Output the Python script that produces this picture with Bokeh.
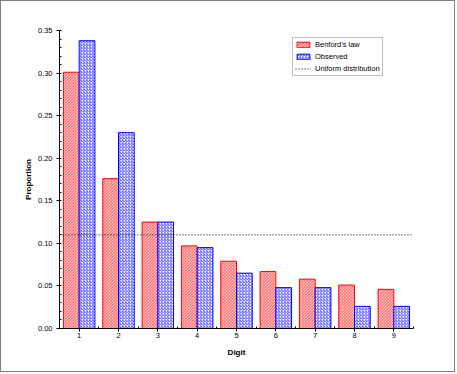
from bokeh.plotting import figure
from bokeh.models import (Range1d, FixedTicker, PrintfTickFormatter, Legend,
                          LegendItem, ColumnDataSource)
from bokeh.transform import dodge
from bokeh.embed import file_html
from bokeh.resources import INLINE

# ---- data ----
digits = [1, 2, 3, 4, 5, 6, 7, 8, 9]
benford = [0.301, 0.176, 0.125, 0.097, 0.079, 0.067, 0.058, 0.051, 0.046]
observed = [0.338, 0.230, 0.125, 0.095, 0.065, 0.048, 0.048, 0.026, 0.026]
uniform_level = 0.11
y_ticks = [0.0, 0.05, 0.10, 0.15, 0.20, 0.25, 0.30, 0.35]
y_minor = [i / 100 for i in range(0, 36)]
x_minor = [d - 0.5 for d in digits] + [9.5]

FONT = "Liberation Sans"

src = ColumnDataSource(dict(digit=digits, benford=benford, observed=observed))

p = figure(width=455, height=372, output_backend="svg", toolbar_location=None,
           x_range=Range1d(0.5, 9.5), y_range=Range1d(0, 0.35),
           min_border_left=58, min_border_right=43, min_border_top=29,
           min_border_bottom=45)
p.styles = {"border": "1px solid #808080"}
p.outline_line_color = None
p.xgrid.visible = False
p.ygrid.visible = False
p.background_fill_color = "white"
p.border_fill_color = "white"

r_b = p.vbar(x=dodge("digit", -0.2), top="benford", width=0.4, bottom=0,
             source=src, fill_color="white", line_color="#ff0000",
             line_width=1, hatch_pattern="\\", hatch_color="#ff5555",
             hatch_alpha=1, hatch_scale=3, hatch_weight=1)
r_o = p.vbar(x=dodge("digit", 0.2), top="observed", width=0.4, bottom=0,
             source=src, fill_color="white", line_color="#0000ff",
             line_width=1, hatch_pattern="/", hatch_color="#5555ff",
             hatch_alpha=1, hatch_scale=3, hatch_weight=1)
r_u = p.line(x=[0.5, 9.5], y=[uniform_level, uniform_level], line_color="black",
             line_width=1, line_dash="1 2")

# axes
xa = p.xaxis[0]
xa.ticker = FixedTicker(ticks=digits, minor_ticks=x_minor)
xa.axis_label = "Digit"
ya = p.yaxis[0]
ya.ticker = FixedTicker(ticks=y_ticks, minor_ticks=y_minor)
ya.formatter = PrintfTickFormatter(format="%.2f")
ya.axis_label = "Proportion"
for ax in (xa, ya):
    ax.axis_line_color = "black"
    ax.major_tick_line_color = "black"
    ax.minor_tick_line_color = "black"
    ax.major_tick_out = 3
    ax.major_tick_in = 0
    ax.minor_tick_out = 0
    ax.minor_tick_in = 2
    ax.major_label_text_font = FONT
    ax.major_label_text_font_size = "7.5px"
    ax.major_label_text_color = "black"
    ax.axis_label_text_font = FONT
    ax.axis_label_text_font_size = "8px"
    ax.axis_label_text_font_style = "bold"
    ax.axis_label_text_color = "black"
xa.major_label_standoff = 1
xa.axis_label_standoff = 7
ya.major_label_standoff = 4
ya.axis_label_standoff = 2

legend = Legend(items=[LegendItem(label="Benford's law", renderers=[r_b]),
                       LegendItem(label="Observed", renderers=[r_o]),
                       LegendItem(label="Uniform distribution", renderers=[r_u])],
                location=(233, 252), margin=0, padding=2, spacing=3,
                glyph_width=16, glyph_height=7, label_height=8,
                label_standoff=4, label_text_font=FONT,
                label_text_font_size="7.5px", label_text_color="black",
                border_line_color="#808080", border_line_width=1,
                background_fill_color="white", background_fill_alpha=1)
p.add_layout(legend)

open("out.html", "w").write(file_html(p, INLINE))
